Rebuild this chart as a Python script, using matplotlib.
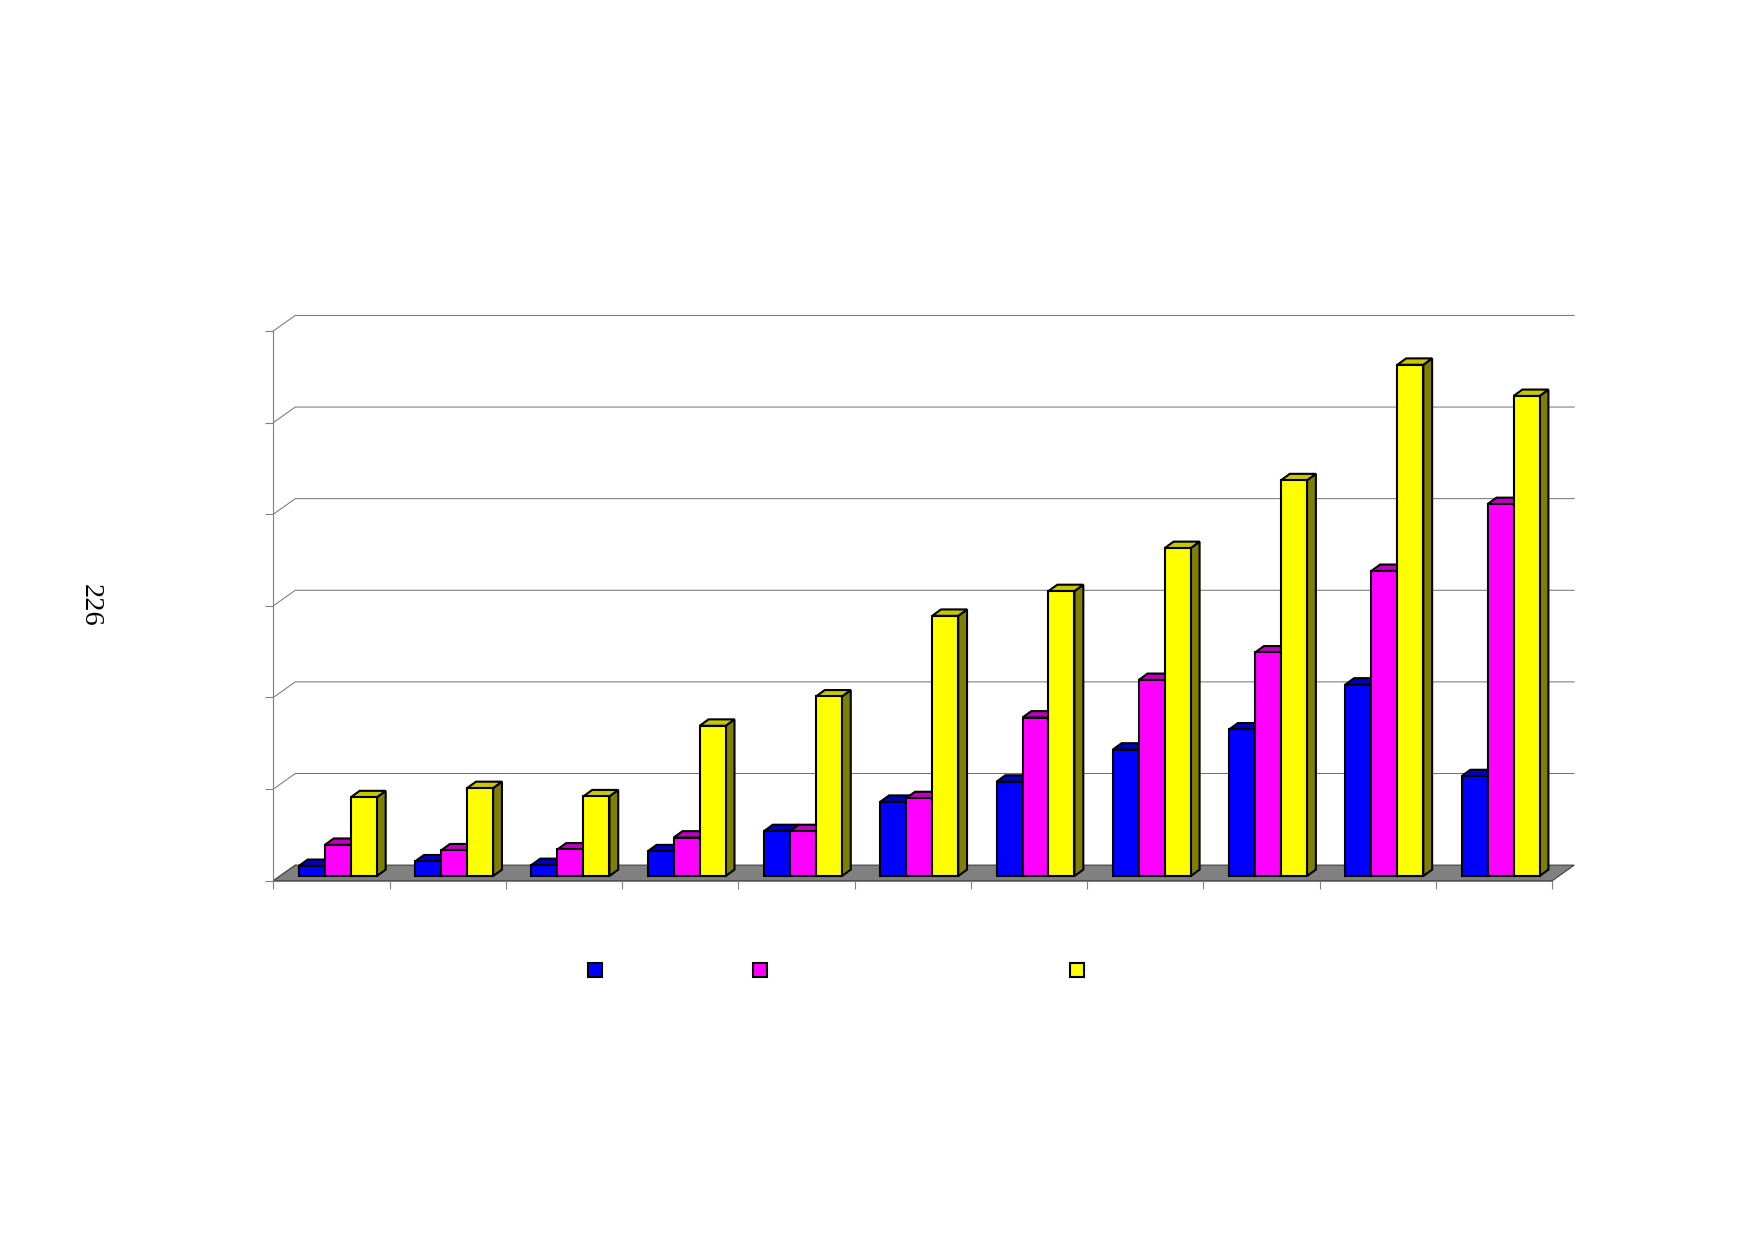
import matplotlib
matplotlib.use("Agg")
import matplotlib.pyplot as plt
from matplotlib.patches import Polygon, Rectangle

# values, in axis units (the chart's own labels are blank)
blue_vals = [1.1, 1.6, 1.2, 2.7, 4.9, 8.1, 10.3, 13.8, 16.0, 20.9, 10.9]
magenta_vals = [3.4, 2.8, 2.9, 4.2, 4.9, 8.5, 17.3, 21.4, 24.4, 33.3, 40.6]
yellow_vals = [8.6, 9.6, 8.7, 16.4, 19.6, 28.4, 31.1, 35.8, 43.2, 55.8, 52.4]
y_ticks = [0, 10, 20, 30, 40, 50, 60]
page_number = "226"

W, H = 1754, 1239
ax_l, ax_r, ax_t, ax_b = 273.3, 1552.3, 331.0, 880.7

# depth of the fake 3d, in data units
floor_dx, floor_dy = 0.189, 1.7
bar_dx, bar_dy = 0.076, 0.7
bar_start, bar_w, bar_base = 0.22, 0.2235, 0.51

series = [
    (blue_vals, "#0000ff", "#0000c0", "#000080"),
    (magenta_vals, "#ff00ff", "#c000c0", "#800080"),
    (yellow_vals, "#ffff00", "#c8c800", "#808000"),
]

fig = plt.figure(figsize=(W / 100, H / 100), dpi=100)
ax = fig.add_axes([ax_l / W, 1 - ax_b / H, (ax_r - ax_l) / W, (ax_b - ax_t) / H])
n = len(blue_vals)
ax.set_xlim(0, n)
ax.set_ylim(0, y_ticks[-1])
ax.patch.set_visible(False)

for s in ["top", "right"]:
    ax.spines[s].set_visible(False)
for s in ["left", "bottom"]:
    ax.spines[s].set_color("#808080")
    ax.spines[s].set_linewidth(0.8)
ax.set_xticks(range(n + 1))
ax.set_yticks(y_ticks)
ax.set_xticklabels([])
ax.set_yticklabels([])
ax.tick_params(axis="both", color="#808080", length=6, width=0.8)

# floor
ax.add_patch(Polygon([(0, 0), (n, 0), (n + floor_dx, floor_dy), (floor_dx, floor_dy)],
                     closed=True, fc="#808080", ec="#404040", lw=0.8, clip_on=False, zorder=1))

# back wall gridlines with the slanted bit from the axis
for v in y_ticks[1:]:
    ax.plot([0, floor_dx, n + floor_dx], [v, v + floor_dy, v + floor_dy],
            color="#707070", lw=0.7, clip_on=False, zorder=0.5)
ax.plot([0, floor_dx], [0, floor_dy], color="#808080", lw=0.8, clip_on=False, zorder=0.5)


def bar3d(x, val, front, top, side, z):
    y0 = bar_base
    y1 = bar_base + val
    x1 = x + bar_w
    kw = dict(closed=True, ec="black", lw=1.5, joinstyle="miter", clip_on=False, zorder=z)
    ax.add_patch(Polygon([(x1, y0), (x1 + bar_dx, y0 + bar_dy), (x1 + bar_dx, y1 + bar_dy), (x1, y1)], fc=side, **kw))
    ax.add_patch(Polygon([(x, y1), (x1, y1), (x1 + bar_dx, y1 + bar_dy), (x + bar_dx, y1 + bar_dy)], fc=top, **kw))
    ax.add_patch(Polygon([(x, y0), (x1, y0), (x1, y1), (x, y1)], fc=front, **kw))


z = 2
for i in range(n):
    for j, (vals, front, top, side) in enumerate(series):
        bar3d(i + bar_start + j * bar_w, vals[i], front, top, side, z)
        z += 1

# legend swatches, the labels are blank in the original
for cx, (vals, front, top, side) in zip([595, 759.5, 1076.5], series):
    fig.add_artist(Rectangle(((cx - 7) / W, 1 - (970 + 7) / H), 14 / W, 14 / H, transform=fig.transFigure,
                             fc=front, ec="black", lw=1.5))

fig.text(90 / W, 1 - 605 / H, page_number, rotation=270, ha="center", va="center",
         family="Liberation Serif", fontsize=20.5, color="black")

fig.savefig("out.png", dpi=100)
